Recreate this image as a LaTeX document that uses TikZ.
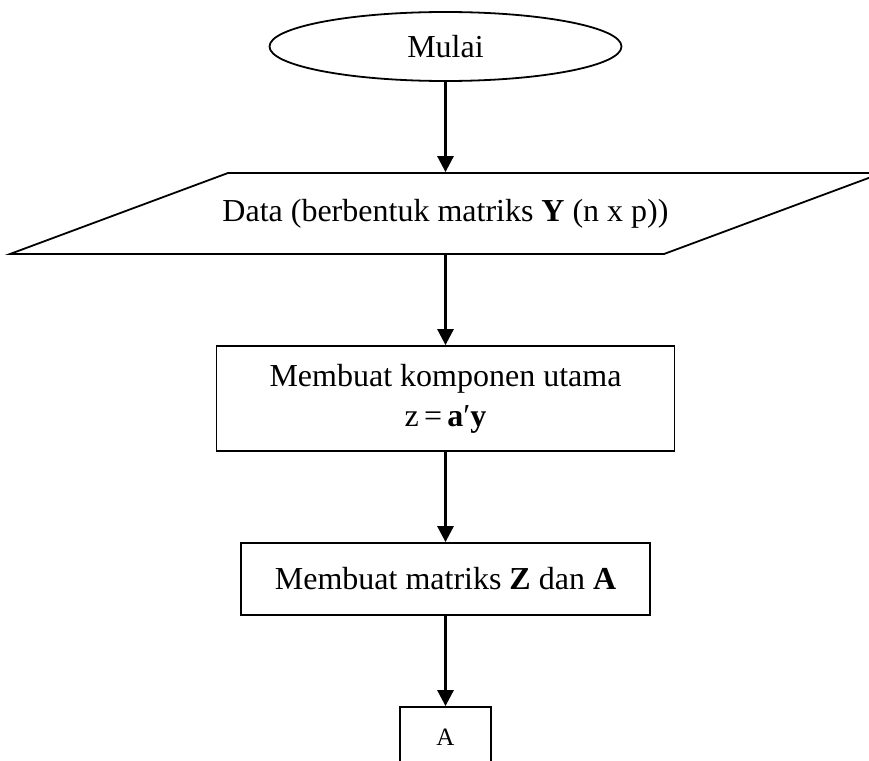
\documentclass[tikz,border=0pt]{standalone}
\usepackage{fontspec}
\setmainfont{Liberation Serif}
\usetikzlibrary{arrows.meta,shapes.geometric}
\begin{document}
\begin{tikzpicture}[x=1pt,y=-1pt,
  line width=1.8pt,
  txt/.style={font=\fontsize{32}{40}\selectfont, inner sep=0pt},
  procbox/.style={draw, rectangle, txt, align=center},
  flow/.style={-{Triangle[width=16pt,length=16pt]}, line width=2.8pt}]
\useasboundingbox (0,0) rectangle (869,760);
\clip (0,0) rectangle (869,760);
\node[draw, ellipse, txt, minimum width=352pt, minimum height=69pt] (mulai) at (445.5,46.5) {Mulai};
\node[rectangle, txt, minimum width=440pt, minimum height=81pt] (data) at (445.5,213.5) {Data (berbentuk matriks \textbf{Y} (n x p))};
\coordinate (p1) at (10,254);
\coordinate (p2) at (228,173);
\coordinate (p3) at (882,173);
\coordinate (p4) at (664,254);
\draw (p1) -- (p2) -- (p3) -- (p4) -- cycle;
\node[procbox, minimum width=458pt, minimum height=105pt] (komp) at (445.5,398.5) {Membuat komponen utama\\z\,=\,\textbf{a}′\textbf{y}};
\node[procbox, minimum width=409pt, minimum height=72pt] (mat) at (445.5,579) {Membuat matriks \textbf{Z} dan \textbf{A}};
\node[procbox, font=\fontsize{25}{30}\selectfont, minimum width=91pt, minimum height=60pt] (a) at (445.5,737) {A};
\draw[flow] (mulai) -- (data);
\draw[flow] (data) -- (komp);
\draw[flow] (komp) -- (mat);
\draw[flow] (mat) -- (a);
\end{tikzpicture}
\end{document}
